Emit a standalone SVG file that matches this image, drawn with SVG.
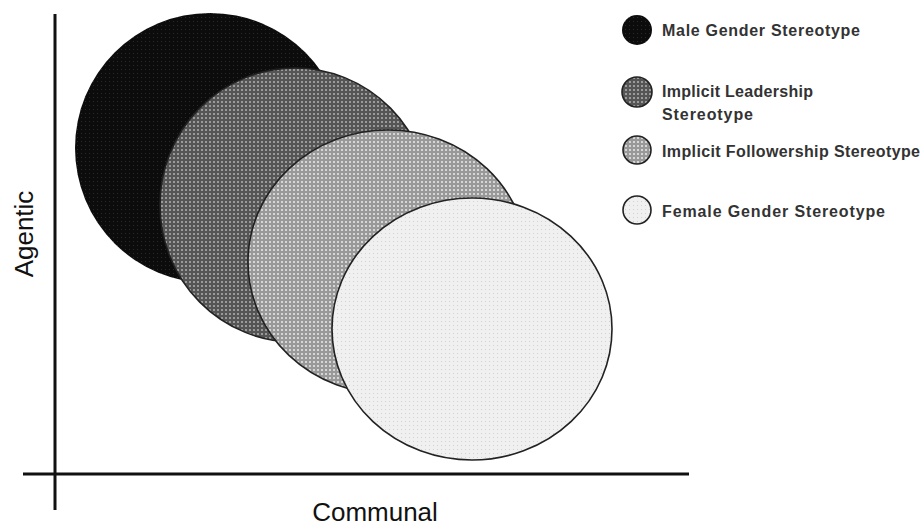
<svg xmlns="http://www.w3.org/2000/svg" width="924" height="529" viewBox="0 0 924 529">
<style>
.axis{stroke:#111;stroke-width:3;fill:none}
.circ{stroke:#222;stroke-width:1.6}
.leg{font-family:"Liberation Sans",Arial,sans-serif;font-size:16px;font-weight:bold;fill:#333}
.axl{font-family:"Liberation Sans",Arial,sans-serif;font-size:26px;fill:#111}
</style>
<defs>
<pattern id="pBlack" width="4" height="4" patternUnits="userSpaceOnUse"><rect width="4" height="4" fill="#0c0c0c"/><rect x="1" y="1" width="1" height="1" fill="#2a2a2a"/></pattern>
<pattern id="pDark" width="4" height="4" patternUnits="userSpaceOnUse"><rect width="4" height="4" fill="#555"/><rect x="1" y="1" width="2" height="2" fill="#9a9a9a"/></pattern>
<pattern id="pLight" width="4" height="4" patternUnits="userSpaceOnUse"><rect width="4" height="4" fill="#999"/><rect x="1" y="1" width="2" height="2" fill="#d6d6d6"/></pattern>
<pattern id="pWhite" width="4" height="4" patternUnits="userSpaceOnUse"><rect width="4" height="4" fill="#f0f0f0"/><rect x="1" y="1" width="1" height="1" fill="#d2d2d2"/></pattern>
</defs>
<rect width="924" height="529" fill="#fff"/>
<g id="axes">
<line class="axis" x1="55" y1="14" x2="55" y2="510"/>
<line class="axis" x1="23" y1="474" x2="689" y2="474"/>
<text class="axl" transform="translate(33,234) rotate(-90)" text-anchor="middle">Agentic</text>
<text class="axl" x="375" y="521" text-anchor="middle">Communal</text>
</g>
<g id="male-circle"><ellipse cx="210" cy="148" rx="135" ry="135" fill="url(#pBlack)"/></g>
<g id="leadership-circle"><ellipse class="circ" cx="295" cy="205" rx="135" ry="137" fill="url(#pDark)"/></g>
<g id="followership-circle"><ellipse class="circ" cx="388" cy="262" rx="140" ry="132" fill="url(#pLight)"/></g>
<g id="female-circle"><ellipse class="circ" cx="472" cy="329" rx="140" ry="131" fill="url(#pWhite)"/></g>
<g id="legend-male"><circle cx="637" cy="30" r="15" fill="url(#pBlack)"/><text class="leg" x="662" y="36" textLength="198" lengthAdjust="spacing">Male Gender Stereotype</text></g>
<g id="legend-leadership"><circle class="circ" cx="637" cy="92" r="15" fill="url(#pDark)"/><text class="leg" x="662" y="97" textLength="151" lengthAdjust="spacing">Implicit Leadership</text><text class="leg" x="662" y="120" textLength="91" lengthAdjust="spacing">Stereotype</text></g>
<g id="legend-followership"><circle class="circ" cx="637" cy="150" r="14" fill="url(#pLight)"/><text class="leg" x="662" y="157" textLength="258" lengthAdjust="spacing">Implicit Followership Stereotype</text></g>
<g id="legend-female"><circle class="circ" cx="637" cy="210" r="14" fill="url(#pWhite)"/><text class="leg" x="662" y="217" textLength="223" lengthAdjust="spacing">Female Gender Stereotype</text></g>
</svg>
